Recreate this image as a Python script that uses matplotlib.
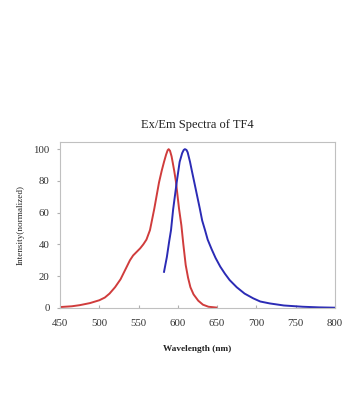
import matplotlib.pyplot as plt

# excitation spectrum (red)
ex_wl = [450, 465, 475, 488, 500, 507, 513, 520, 527, 533, 539, 543, 547, 552, 556,
         560, 564.5, 570, 576, 579.5, 582.4, 585, 587, 588.3, 590, 592, 593.5, 595.5, 597.6,
         601.5, 604.5, 607, 610, 613, 616, 620, 626, 632, 639, 649]
ex_int = [0.5, 1, 1.7, 3, 4.8, 6.5, 9, 13, 18, 24, 30, 33, 35, 37.5, 40,
          43, 49, 62.5, 79, 86.5, 92, 96.5, 99.3, 100, 99, 95.5, 91.5, 86, 79.4,
          62.5, 52, 40, 27, 19, 13, 8.5, 4.5, 2, 0.7, 0.2]

# emission spectrum (blue)
em_wl = [582.4, 586, 589, 591.3, 594, 598.5, 602.3, 605.5, 607.5, 609, 611, 612.5,
         615.5, 618, 621, 628, 631, 634.6, 638, 643, 648, 654, 660, 666, 675, 685,
         696, 705, 717, 735, 759, 780, 800]
em_int = [22.7, 32, 42, 49, 62, 79, 92, 97.5, 99.5, 100, 99.5, 98,
          92, 86, 79, 62.5, 55, 49, 43, 37, 31.5, 26, 21.5, 17.5, 13, 9,
          6, 4, 2.8, 1.5, 0.7, 0.3, 0.1]

plt.rcParams['font.family'] = ['Liberation Serif', 'DejaVu Serif']

fig = plt.figure(figsize=(3.62, 4.2), dpi=100)
ax = fig.add_axes([0.166, 0.267, 0.759, 0.396])

ax.plot(ex_wl, ex_int, color='#d03c3c', lw=1.4)
ax.plot(em_wl, em_int, color='#2b2bb5', lw=1.4)

ax.set_xlim(450, 800)
ax.set_ylim(0, 104.8)
ax.set_xticks(range(450, 801, 50))
ax.set_yticks(range(0, 101, 20))
ax.tick_params(axis='x', direction='in', length=2.5, labelsize=7.8, pad=8,
               colors='#b0b0b0', labelcolor='#333333')
ax.tick_params(axis='y', direction='out', length=2.5, labelsize=7.8, pad=5,
               colors='#b0b0b0', labelcolor='#333333')
for s in ax.spines.values():
    s.set_color('#c0c0c0')
    s.set_linewidth(0.8)

ax.set_title('Ex/Em Spectra of TF4', fontsize=9, pad=10, color='#222222')
ax.set_xlabel('Wavelength (nm)', fontsize=6.7, fontweight='bold', labelpad=12, color='#222222')
ax.set_ylabel('Intensity(normalized)', fontsize=6.6, labelpad=6, color='#222222')

fig.savefig('out.png', dpi=100)
